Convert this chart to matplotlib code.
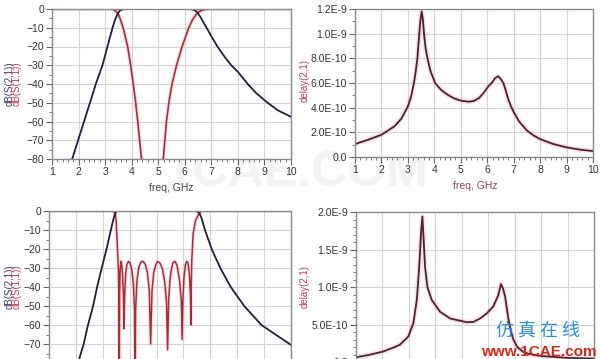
import matplotlib
matplotlib.use('Agg')
import matplotlib.pyplot as plt
from matplotlib.ticker import MultipleLocator

plt.rcParams['font.family'] = ['Liberation Sans', 'DejaVu Sans']

# ---- top left: wide band filter, dB(S21) / dB(S11) ----
tl_s21_f = [1.76, 2.05, 2.43, 2.65, 2.9, 3.09, 3.28, 3.38, 3.49, 3.58, 3.7, 3.85,
            6.1, 6.2, 6.3, 6.4, 6.48, 6.6, 6.82, 7.0, 7.23, 7.5, 7.75, 8.0, 8.37, 8.7, 9.12, 9.5, 10.0]
tl_s21_db = [-80, -67, -50, -40, -30, -20, -10, -5.5, -2, -0.6, -0.1, 0,
             0, -0.1, -0.3, -0.9, -2, -4.5, -10, -14.5, -20, -25.5, -30, -33.5, -40, -45, -50, -54, -57.5]
tl_s11_f = [1.0, 3.2, 3.3, 3.4, 3.49, 3.56, 3.68, 3.85, 3.96, 4.06, 4.15, 4.23, 4.3, 4.37, 4.45,
            5.12, 5.19, 5.25, 5.31, 5.4, 5.52, 5.69, 5.9, 6.15, 6.3, 6.48, 6.62, 6.78, 6.95, 10.0]
tl_s11_db = [0, 0, -0.3, -1, -2.5, -5, -10, -20, -30, -40, -50, -60, -70, -80, -92,
             -92, -80, -70, -60, -50, -40, -30, -20, -10, -5.5, -2, -0.8, -0.2, 0, 0]

# ---- top right: group delay (ns) ----
tr_f = [1.0, 1.5, 2.0, 2.5, 2.75, 3.0, 3.12, 3.23, 3.3, 3.36, 3.43, 3.48, 3.52, 3.56, 3.61,
        3.67, 3.74, 3.85, 4.03, 4.25, 4.5, 4.75, 5.0, 5.3, 5.5, 5.7, 5.9, 6.05, 6.17, 6.3,
        6.42, 6.52, 6.61, 6.7, 6.8, 6.9, 7.0, 7.2, 7.5, 7.75, 8.0, 8.5, 9.0, 9.5, 10.0]
tr_delay = [0.105, 0.14, 0.18, 0.25, 0.31, 0.41, 0.49, 0.6, 0.7, 0.8, 1.0, 1.12, 1.18, 1.13, 1.0,
            0.88, 0.8, 0.7, 0.6, 0.545, 0.505, 0.475, 0.457, 0.448, 0.455, 0.48, 0.53, 0.575, 0.6, 0.64,
            0.655, 0.63, 0.6, 0.54, 0.465, 0.41, 0.365, 0.29, 0.215, 0.175, 0.145, 0.105, 0.078, 0.06, 0.048]

# ---- bottom left: narrow band filter ----
bl_s21_f = [1.8, 2.05, 2.12, 2.29, 2.45, 2.64, 2.79, 2.96, 3.14, 3.3, 3.4, 3.46, 3.52, 3.6,
            6.4, 6.5, 6.59, 6.68, 6.8, 7.05, 7.37, 7.76, 8.26, 8.9, 10.0]
bl_s21_db = [-92, -80, -78, -70, -60, -50, -40, -30, -20, -10, -4, -1, -0.2, 0,
             0, -0.2, -1, -4, -10, -20, -30, -40, -50, -60, -70.5]
bl_s11_f = [1.0, 3.35, 3.43, 3.47, 3.5, 3.53, 3.56, 3.585, 3.6, 3.61,
            3.625, 3.64, 3.66, 3.68, 3.71, 3.74, 3.77, 3.79,
            3.81, 3.85, 3.9, 3.96, 4.02, 4.08, 4.14, 4.18, 4.2,
            4.22, 4.27, 4.34, 4.42, 4.5, 4.58, 4.66, 4.73, 4.78,
            4.83, 4.9, 4.98, 5.05, 5.13, 5.22, 5.3, 5.37, 5.41,
            5.45, 5.5, 5.56, 5.62, 5.68, 5.76, 5.85, 5.92, 5.95,
            5.98, 6.02, 6.07, 6.12, 6.17, 6.22, 6.26, 6.28,
            6.29, 6.31, 6.36, 6.45, 6.59, 6.7, 10.0]
bl_s11_db = [0, 0, -0.5, -1.5, -6, -15, -24, -32, -50, -100,
             -45, -33, -28, -26.5, -29, -35, -45, -62,
             -46, -33, -28, -26.5, -27.5, -31, -39, -52, -100,
             -52, -37, -29.5, -26.8, -26.5, -28, -32.5, -42, -70,
             -42, -32, -28, -26.5, -27.5, -30.5, -37, -48, -73,
             -47, -36, -30, -27, -26.5, -28.5, -36, -47, -67.5,
             -47, -35, -28.5, -26.5, -27.5, -33, -44, -60,
             -40, -26, -12, -5, -1, 0, 0]

# ---- bottom right: group delay (ns) ----
br_f = [1.0, 1.5, 2.03, 2.4, 2.66, 2.98, 3.17, 3.3, 3.39, 3.46, 3.51, 3.56, 3.61, 3.7, 3.86,
        4.18, 4.56, 5.19, 5.45, 5.69, 5.95, 6.19, 6.38, 6.48, 6.56, 6.64, 6.75, 6.85, 6.95,
        7.1, 7.3, 7.5, 8.0, 9.0, 10.0]
br_delay = [0.063, 0.095, 0.14, 0.19, 0.23, 0.34, 0.52, 0.83, 1.27, 1.72, 1.94, 1.62, 1.27, 1.0, 0.83,
            0.67, 0.58, 0.53, 0.535, 0.58, 0.65, 0.74, 0.89, 1.04, 0.98, 0.87, 0.6, 0.42, 0.3,
            0.2, 0.14, 0.11, 0.08, 0.055, 0.045]

freq_ticks = [1, 2, 3, 4, 5, 6, 7, 8, 9, 10]
db_ticks = [0, -10, -20, -30, -40, -50, -60, -70, -80]
tr_ticks = [0.0, 0.2, 0.4, 0.6, 0.8, 1.0, 1.2]
tr_labels = ['0.0', '2.0E-10', '4.0E-10', '6.0E-10', '8.0E-10', '1.0E-9', '1.2E-9']
br_ticks = [0.0, 0.5, 1.0, 1.5, 2.0]
br_labels = ['0.0', '5.0E-10', '1.0E-9', '1.5E-9', '2.0E-9']

NAVY = '#1e2042'
RED = '#a82c3a'
HALO = '#f3bcc4'
DELAY = '#4a2432'

W, H = 600, 359
fig = plt.figure(figsize=(6, 3.59), dpi=100)


def px_axes(x0, x1, ytop, ybot):
    return fig.add_axes([x0 / W, 1 - ybot / H, (x1 - x0) / W, (ybot - ytop) / H])


def style(ax, ymin, ymax, yminor, xlabels=True):
    ax.set_xlim(1, 10)
    ax.set_ylim(ymin, ymax)
    ax.set_xticks(freq_ticks)
    ax.xaxis.set_minor_locator(MultipleLocator(0.2))
    ax.yaxis.set_minor_locator(MultipleLocator(yminor))
    ax.grid(True, which='major', color='#d4d4d4', lw=0.8)
    ax.set_axisbelow(True)
    for s in ax.spines.values():
        s.set_color('#8a8a8a')
        s.set_linewidth(1.0)
    ax.tick_params(which='both', direction='out', colors='#666666', labelcolor='#333333',
                   labelsize=7.5, pad=1.5, labelbottom=xlabels)
    ax.tick_params(which='major', length=4)
    ax.tick_params(which='minor', length=2.5)


# watermark behind everything
fig.text(297 / W, 1 - 173 / H, '1CAE.COM', ha='center', va='center', fontsize=36,
         fontweight='bold', color='#f3f3f3', zorder=-5)

# top left
ax1 = px_axes(52, 291, 9, 159)
style(ax1, -80, 0, 5)
ax1.set_yticks(db_ticks)
ax1.plot(tl_s11_f, tl_s11_db, color=HALO, lw=3, alpha=0.45, solid_capstyle='round')
ax1.plot(tl_s11_f, tl_s11_db, color=RED, lw=1.2)
ax1.plot(tl_s21_f, tl_s21_db, color=NAVY, lw=1.3)

# top right
ax2 = px_axes(355, 593, 9, 157)
style(ax2, 0, 1.2, 0.1)
ax2.set_yticks(tr_ticks, tr_labels)
ax2.plot(tr_f, tr_delay, color=HALO, lw=3.5, alpha=0.45, solid_capstyle='round')
ax2.plot(tr_f, tr_delay, color=DELAY, lw=1.3)

# bottom left (runs off the bottom edge, as in the screenshot)
ax3 = px_axes(49, 291, 211, 363)
style(ax3, -80, 0, 5, xlabels=False)
ax3.set_yticks(db_ticks)
ax3.plot(bl_s11_f, bl_s11_db, color=HALO, lw=2.6, alpha=0.45)
ax3.plot(bl_s11_f, bl_s11_db, color=RED, lw=1.1)
ax3.plot(bl_s21_f, bl_s21_db, color=NAVY, lw=1.3)

# bottom right
ax4 = px_axes(356, 594, 212, 362)
style(ax4, 0, 2.0, 0.1, xlabels=False)
ax4.set_yticks(br_ticks, br_labels)
ax4.plot(br_f, br_delay, color=HALO, lw=3.5, alpha=0.45, solid_capstyle='round')
ax4.plot(br_f, br_delay, color=DELAY, lw=1.3)

# axis titles
fig.text(171 / W, 1 - 188 / H, 'freq, GHz', ha='center', va='center', fontsize=7.5, color='#444444')
fig.text(475 / W, 1 - 186 / H, 'freq, GHz', ha='center', va='center', fontsize=7.5, color='#8a4a55')
for yc in (84, 287):
    fig.text(10 / W, 1 - yc / H, 'dB(S(2,1))', rotation=90, ha='center', va='center',
             fontsize=7, color='#3a3a66')
    fig.text(17 / W, 1 - yc / H, 'dB(S(1,1))', rotation=90, ha='center', va='center',
             fontsize=7, color='#c04050')
for yc in (80, 287):
    fig.text(305 / W, 1 - yc / H, 'delay(2,1)', rotation=90, ha='center', va='center',
             fontsize=7, color='#c04050')

# site logo
fig.text(538 / W, 1 - 332 / H, '仿 真 在 线', ha='center', va='center', fontsize=13,
         family=['Noto Sans CJK SC', 'DejaVu Sans'], color='#2a90d8')
fig.text(539 / W, 1 - 352 / H, 'www.1CAE.com', ha='center', va='center', fontsize=11,
         fontweight='bold', color='#d4281a')

fig.savefig('out.png', dpi=100, facecolor='white')
